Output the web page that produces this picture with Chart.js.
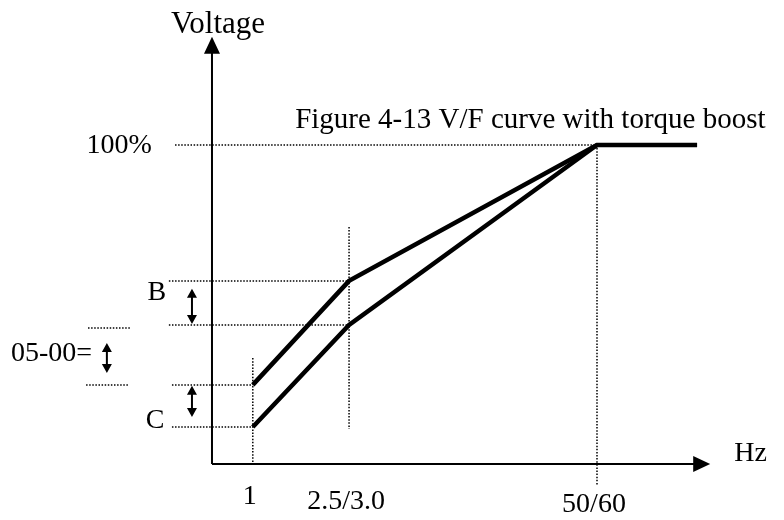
<!DOCTYPE html>
<html>
<head>
<meta charset="utf-8">
<script src="https://cdn.jsdelivr.net/npm/chart.js@4.4.1/dist/chart.umd.min.js"></script>
<style>
  html,body{margin:0;padding:0;background:#fff;}
  #wrap{width:784px;height:520px;}
</style>
</head>
<body>
<div id="wrap"><canvas id="vf"></canvas></div>
<script>
// schematic units: 0..100 on x = 0 Hz .. base freq, 0..100 on y = 0 .. 100% voltage
const freqLabels = ['1', '2.5/3.0', '50/60'];
const freqPos = [10.6, 35.6, 100];
const curveX = [10.6, 35.6, 100, 126];
const boostY = [24.8, 57.4, 100, 100];   // with torque boost
const baseY = [11.6, 43.6, 100];         // without boost
const levelB = [57.4, 43.6];
const levelC = [24.8, 11.6];
const level0500 = [42.6, 24.8];

const pts = (xs, ys) => ys.map((y, i) => ({x: xs[i], y}));
const dotted = (data) => ({data, borderColor:'#000', borderWidth:1.5, borderDash:[1.5,1.6], pointRadius:0, fill:false, tension:0});
const solid = (data) => ({data, borderColor:'#000', borderWidth:4.5, pointRadius:0, fill:false, tension:0, borderJoinStyle:'miter'});

const guides = [
  dotted([{x:-9.6, y:100}, {x:freqPos[2], y:100}]),
  dotted([{x:-11.2, y:levelB[0]}, {x:freqPos[1], y:levelB[0]}]),
  dotted([{x:-11.2, y:levelB[1]}, {x:freqPos[1], y:levelB[1]}]),
  dotted([{x:-10.4, y:levelC[0]}, {x:freqPos[0], y:levelC[0]}]),
  dotted([{x:-10.4, y:levelC[1]}, {x:freqPos[0], y:levelC[1]}]),
  dotted([{x:-32.2, y:level0500[0]}, {x:-21.0, y:level0500[0]}]),
  dotted([{x:-32.7, y:level0500[1]}, {x:-21.8, y:level0500[1]}]),
  dotted([{x:freqPos[0], y:33.2}, {x:freqPos[0], y:0}]),
  dotted([{x:freqPos[1], y:74.3}, {x:freqPos[1], y:11.0}]),
  dotted([{x:freqPos[2], y:100}, {x:freqPos[2], y:-6.6}])
];

const drawing = {
  id: 'drawing',
  afterDraw(chart) {
    const ctx = chart.ctx, xs = chart.scales.x, ys = chart.scales.y;
    const X = v => xs.getPixelForValue(v), Y = v => ys.getPixelForValue(v);
    ctx.save();
    ctx.fillStyle = '#000';
    ctx.strokeStyle = '#000';
    // axes with arrows
    const x0 = X(0), y0 = Y(0), yTop = Y(133.9), xEnd = X(129.4);
    ctx.lineWidth = 2;
    ctx.beginPath();
    ctx.moveTo(x0, y0); ctx.lineTo(x0, yTop + 14);
    ctx.moveTo(x0, y0); ctx.lineTo(xEnd - 14, y0);
    ctx.stroke();
    ctx.beginPath();
    ctx.moveTo(x0, yTop); ctx.lineTo(x0 - 8, yTop + 17); ctx.lineTo(x0 + 8, yTop + 17); ctx.closePath();
    ctx.moveTo(xEnd, y0); ctx.lineTo(xEnd - 17, y0 - 8); ctx.lineTo(xEnd - 17, y0 + 8); ctx.closePath();
    ctx.fill();
    // double arrows
    const dbl = (xv, a, b) => {
      const x = X(xv), t = Y(a), bt = Y(b);
      ctx.lineWidth = 2;
      ctx.beginPath(); ctx.moveTo(x, t + 6); ctx.lineTo(x, bt - 6); ctx.stroke();
      ctx.beginPath();
      ctx.moveTo(x, t); ctx.lineTo(x - 5, t + 9); ctx.lineTo(x + 5, t + 9); ctx.closePath();
      ctx.moveTo(x, bt); ctx.lineTo(x - 5, bt - 9); ctx.lineTo(x + 5, bt - 9); ctx.closePath();
      ctx.fill();
    };
    dbl(-5.2, 54.9, 43.9);
    dbl(-5.2, 24.5, 14.7);
    dbl(-27.3, 37.9, 28.5);
    // texts
    ctx.textBaseline = 'alphabetic';
    ctx.textAlign = 'center';
    ctx.font = '31px "Liberation Serif", "Times New Roman", serif';
    ctx.fillText('Voltage', x0 + 6, yTop - 4);
    ctx.textAlign = 'left';
    ctx.font = '29px "Liberation Serif", "Times New Roman", serif';
    ctx.fillText('Figure 4-13 V/F curve with torque boost', X(21.6), Y(105.3));
    ctx.font = '28px "Liberation Serif", "Times New Roman", serif';
    ctx.textBaseline = 'middle';
    ctx.textAlign = 'right';
    ctx.fillText('100%', X(-15.6), Y(100) + 1);
    ctx.textAlign = 'center';
    ctx.fillText('B', X(-14.3), Y(53.6));
    ctx.fillText('C', X(-14.8), Y(13.5));
    ctx.textAlign = 'left';
    ctx.fillText('05-00=', X(-52.2), Y(34.7));
    ctx.fillText('Hz', xEnd + 24, y0 - 10);
    ctx.textAlign = 'center';
    const tickDy = [33, 38, 41];
    freqLabels.forEach((l, i) => ctx.fillText(l, X(freqPos[i]) - 3, y0 + tickDy[i]));
    ctx.restore();
  }
};

new Chart(document.getElementById('vf'), {
  type: 'line',
  data: {
    datasets: [
      ...guides,
      solid(pts(curveX, boostY)),
      solid(pts(curveX, baseY))
    ]
  },
  options: {
    responsive: true,
    maintainAspectRatio: false,
    animation: false,
    layout: {padding: 0},
    plugins: {legend: {display: false}, tooltip: {enabled: false}},
    scales: {
      x: {type: 'linear', display: false, min: -55.06, max: 148.57},
      y: {type: 'linear', display: false, min: -17.55, max: 145.45}
    }
  },
  plugins: [drawing]
});
</script>
</body>
</html>
